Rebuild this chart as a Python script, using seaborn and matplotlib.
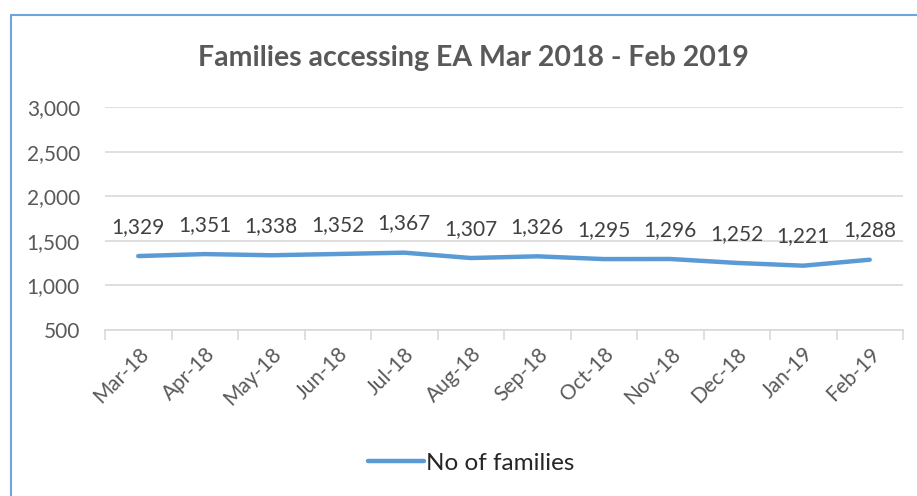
import numpy as np
import pandas as pd
import matplotlib
matplotlib.use("Agg")
import matplotlib.pyplot as plt
import seaborn as sns
from matplotlib.patches import Rectangle
from matplotlib.ticker import FixedLocator, FuncFormatter

# chart data
months = ["Mar-18", "Apr-18", "May-18", "Jun-18", "Jul-18", "Aug-18",
          "Sep-18", "Oct-18", "Nov-18", "Dec-18", "Jan-19", "Feb-19"]
families = [1329, 1351, 1338, 1352, 1367, 1307, 1326, 1295, 1296, 1252, 1221, 1288]
seriesName = "No of families"
chartTitle = "Families accessing EA Mar 2018 - Feb 2019"

lineColor = "#5B9BD5"
gridColor = "#D9D9D9"
textGray = "#595959"

sns.set_theme(style="white")
plt.rcParams['font.family'] = ['Lato', 'DejaVu Sans']

df = pd.DataFrame({"pos": np.arange(len(months)), "value": families, "series": seriesName})

fig = plt.figure(figsize=(9.17, 4.96), dpi=100)
ax = fig.add_axes([105 / 917, 1 - 330 / 496, (903 - 105) / 917, (330 - 107) / 496])

sns.lineplot(data=df, x="pos", y="value", hue="series", palette=[lineColor],
             linewidth=3.2, ax=ax, legend=True)

ax.set_xlim(-0.5, len(months) - 0.5)
ax.set_ylim(500, 3000)
ax.set_yticks(np.arange(500, 3001, 500))
ax.yaxis.set_major_formatter(FuncFormatter(lambda v, p: f"{int(v):,}"))
ax.grid(axis="y", color=gridColor, linewidth=1.2)
ax.set_axisbelow(True)

# category labels centred, tick marks at the category boundaries
ax.set_xticks(df["pos"])
ax.set_xticklabels(months, rotation=45, ha="right", rotation_mode="anchor")
ax.xaxis.set_minor_locator(FixedLocator(np.arange(-0.5, len(months), 1.0)))
ax.tick_params(axis="x", which="major", length=0, pad=10, labelsize=15, labelcolor=textGray)
ax.tick_params(axis="x", which="minor", length=7, width=1.2, color=gridColor, bottom=True)
ax.tick_params(axis="y", length=0, pad=18, labelsize=15, labelcolor=textGray)

for s in ["top", "right", "left"]:
    ax.spines[s].set_visible(False)
ax.spines["bottom"].set_color(gridColor)
ax.spines["bottom"].set_linewidth(1.2)
ax.set_xlabel("")
ax.set_ylabel("")

# data labels
for x, v in zip(df["pos"], df["value"]):
    ax.annotate(f"{v:,}", (x, v), xytext=(0, 21), textcoords="offset points",
                ha="center", va="center", fontsize=15, color="#404040")

fig.suptitle(chartTitle, x=473 / 917, y=1 - 58 / 496, va="center",
             fontsize=20.5, fontweight="bold", color=textGray)

handles, labels = ax.get_legend_handles_labels()
ax.legend(handles, labels, loc="center", bbox_to_anchor=(471 / 917, 1 - 463 / 496),
          bbox_transform=fig.transFigure, frameon=False, fontsize=17.5,
          handlelength=2.3, handletextpad=0.1)

# outer chart border
fig.patches.append(Rectangle((11 / 917, -0.2), 1.2, 1.2 - 15 / 496,
                             transform=fig.transFigure, fill=False,
                             edgecolor="#6FA3DB", linewidth=1.5))

fig.savefig("out.png", dpi=100)
